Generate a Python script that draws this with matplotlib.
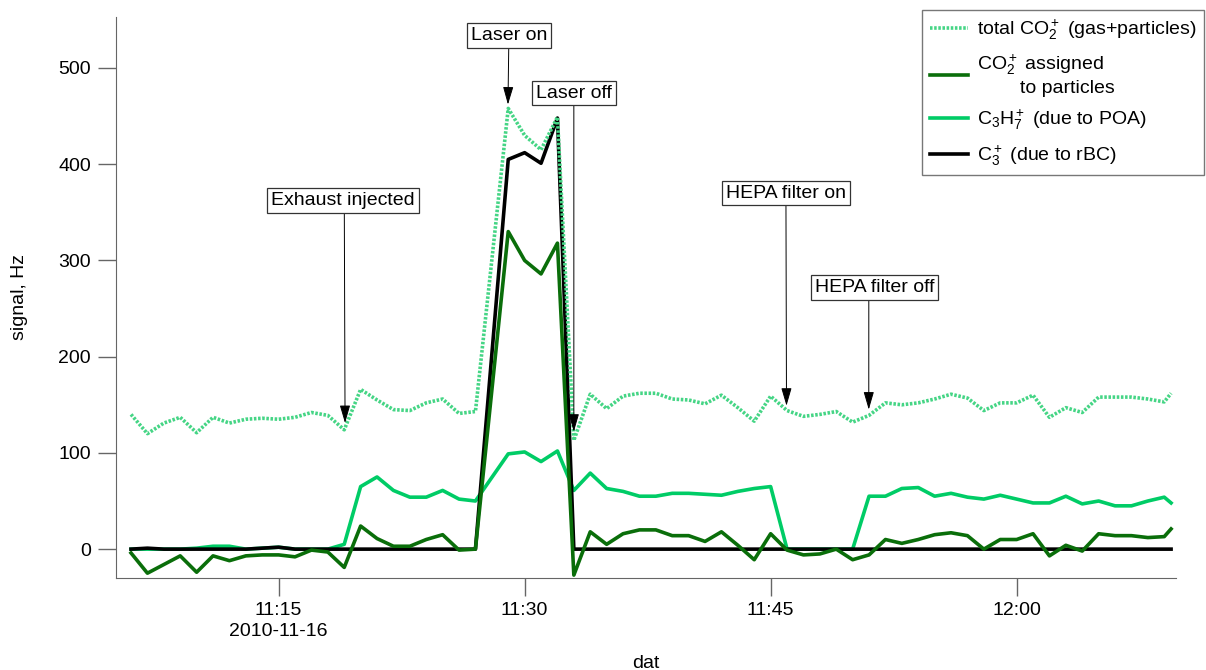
import pandas as pd
import matplotlib.pyplot as plt
import matplotlib.dates as mdates

plt.rcParams['font.family'] = ['Liberation Sans', 'DejaVu Sans']
plt.rcParams['mathtext.fontset'] = 'custom'
plt.rcParams['mathtext.rm'] = 'Liberation Sans'
plt.rcParams['mathtext.it'] = 'Liberation Sans:italic'
plt.rcParams['mathtext.bf'] = 'Liberation Sans:bold'
plt.rcParams['font.size'] = 14

# dados (1 ponto por minuto, 11:28 sem medida)
tempos = ['11:06', '11:07', '11:08', '11:09', '11:10', '11:11', '11:12', '11:13',
          '11:14', '11:15', '11:16', '11:17', '11:18', '11:19', '11:20', '11:21',
          '11:22', '11:23', '11:24', '11:25', '11:26', '11:27',
          '11:29', '11:30', '11:31', '11:32', '11:33', '11:34', '11:35', '11:36',
          '11:37', '11:38', '11:39', '11:40', '11:41', '11:42', '11:43', '11:44',
          '11:45', '11:46', '11:47', '11:48', '11:49', '11:50', '11:51', '11:52',
          '11:53', '11:54', '11:55', '11:56', '11:57', '11:58', '11:59',
          '12:00', '12:01', '12:02', '12:03', '12:04', '12:05', '12:06', '12:07',
          '12:08', '12:09', '12:09:25']

co2_total = [140, 120, 131, 137, 121, 137, 131, 135, 136, 135, 137, 142, 139, 124, 166, 155,
             145, 144, 152, 156, 141, 143,
             458, 430, 415, 449, 113, 161, 146, 159,
             162, 162, 156, 155, 151, 160, 147, 133,
             159, 144, 138, 140, 143, 132, 139, 152,
             150, 152, 156, 161, 157, 144, 152,
             152, 160, 137, 147, 142, 158, 158, 158,
             156, 153, 162]

co2_part = [-4, -25, -16, -7, -24, -7, -12, -7, -6, -6, -8, -1, -3, -19, 24, 11,
            3, 3, 10, 15, -1, 0,
            330, 300, 286, 318, -27, 18, 5, 16,
            20, 20, 14, 14, 8, 18, 4, -11,
            16, -1, -6, -5, 0, -11, -6, 10,
            6, 10, 15, 17, 14, 0, 10,
            10, 16, -7, 4, -2, 16, 14, 14,
            12, 13, 21]

c3h7 = [0, 0, 0, 0, 1, 3, 3, 0, 1, 2, 0, 0, 0, 5, 65, 75,
        61, 54, 54, 61, 52, 50,
        99, 101, 91, 102, 61, 79, 63, 60,
        55, 55, 58, 58, 57, 56, 60, 63,
        65, 0, 0, 0, 0, 0, 55, 55,
        63, 64, 55, 58, 54, 52, 56,
        52, 48, 48, 55, 47, 50, 45, 45,
        50, 54, 48]

c3 = [0, 1, 0, 0, 0, 0, 0, 0, 1, 2, 0, 0, 0, 0, 0, 0,
      0, 0, 0, 0, 0, 0,
      405, 412, 401, 448, 0, 0, 0, 0,
      0, 0, 0, 0, 0, 0, 0, 0,
      0, 0, 0, 0, 0, 0, 0, 0,
      0, 0, 0, 0, 0, 0, 0,
      0, 0, 0, 0, 0, 0, 0, 0,
      0, 0, 0]

# eventos: texto, hora do texto, y do texto, hora da seta, y da ponta, posição relativa na caixa
eventos = [
    ('Laser on', '11:29:02', 534, '11:28:59', 462, 0.5),
    ('Laser off', '11:33:00', 474, '11:33:00', 122, 0.5),
    ('Exhaust injected', '11:18:55', 362, '11:19:03', 131, 0.51),
    ('HEPA filter on', '11:45:56', 370, '11:45:58', 149, 0.5),
    ('HEPA filter off', '11:51:21', 272, '11:50:59', 145, 0.45),
]

dia = '2010-11-16 '
x = pd.to_datetime([dia + t for t in tempos], format='mixed')

fig, ax = plt.subplots(figsize=(12.06, 6.70), dpi=100)
fig.subplots_adjust(left=116/1206, right=1176/1206, bottom=1-578/670, top=1-17/670)

ax.plot(x, c3h7, color='#00cc66', lw=2.6, zorder=2, label='C$_3$H$_7^+$ (due to POA)')
ax.plot(x, c3, color='black', lw=2.6, zorder=3, label='C$_3^+$ (due to rBC)')
ax.plot(x, co2_part, color='#0a6e0a', lw=2.6, zorder=4,
        label='CO$_2^+$ assigned\n        to particles')
ax.plot(x, co2_total, color='#45d585', lw=2.6, ls=(0, (0.7, 0.45)), zorder=5,
        label='total CO$_2^+$ (gas+particles)')

# anotações
for texto, tx, ty, ax_t, ay, rp in eventos:
    ax.annotate(texto, xy=(pd.Timestamp(dia + ax_t), ay),
                xytext=(pd.Timestamp(dia + tx), ty),
                ha='center', va='center', zorder=6,
                bbox=dict(boxstyle='square,pad=0.2', fc='white', ec='#333333', lw=0.9),
                arrowprops=dict(arrowstyle='-|>,head_length=1.1,head_width=0.32',
                                color='black', lw=0.7, shrinkA=0, shrinkB=0,
                                relpos=(rp, 0), mutation_scale=10))

ax.set_xlim(pd.Timestamp(dia + '11:05:05'), pd.Timestamp(dia + '12:09:43'))
ax.set_ylim(-30, 553)

ticks = [pd.Timestamp(dia + t) for t in ['11:15', '11:30', '11:45', '12:00']]
ax.set_xticks(mdates.date2num(ticks))
ax.set_xticklabels(['11:15\n2010-11-16', '11:30', '11:45', '12:00'])
ax.set_yticks([0, 100, 200, 300, 400, 500])

for lado in ['top', 'right']:
    ax.spines[lado].set_visible(False)
for lado in ['left', 'bottom']:
    ax.spines[lado].set_color('#666666')
ax.tick_params(axis='both', direction='out', length=13, color='#666666', width=1)
ax.tick_params(axis='x', pad=4)
ax.tick_params(axis='y', pad=5)
for t in ax.get_xticklabels():
    t.set_linespacing(1.35)

ax.set_xlabel('dat', labelpad=11)
ax.set_ylabel('signal, Hz', labelpad=22)

# legenda na ordem do original
h, l = ax.get_legend_handles_labels()
ordem = [3, 2, 0, 1]
leg = ax.legend([h[i] for i in ordem], [l[i] for i in ordem],
                loc='upper right', bbox_to_anchor=(1204/1206, 1-10/670),
                bbox_transform=fig.transFigure, borderaxespad=0,
                fancybox=False, framealpha=1, edgecolor='#777777',
                handlelength=2.0, handletextpad=0.45, labelspacing=0.58,
                borderpad=0.38, fontsize=14)
leg.get_frame().set_linewidth(1.0)

plt.savefig('out.png', dpi=100)
